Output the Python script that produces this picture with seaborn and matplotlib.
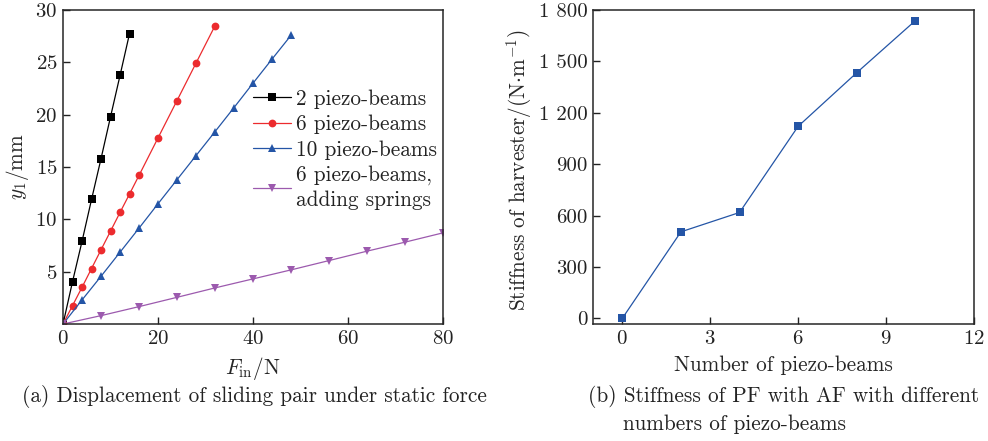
import matplotlib
matplotlib.use("Agg")
import matplotlib.pyplot as plt
import matplotlib.transforms as mtransforms
import seaborn as sns

# data
# (a) displacement y1 (mm) vs input force F_in (N)
f_2beams = [0, 2, 4, 6, 8, 10, 12, 14]
y_2beams = [0, 4.05, 7.9, 11.9, 15.8, 19.8, 23.75, 27.75]

f_6beams = [0, 2, 4, 6, 8, 10, 12, 14, 16, 20, 24, 28, 32]
y_6beams = [0, 1.76, 3.51, 5.3, 7.09, 8.87, 10.66, 12.42, 14.2, 17.78, 21.35, 24.93, 28.5]

f_10beams = [0, 4, 8, 12, 16, 20, 24, 28, 32, 36, 40, 44, 48]
y_10beams = [0, 2.3, 4.56, 6.86, 9.16, 11.49, 13.79, 16.09, 18.38, 20.68, 23.01, 25.31, 27.58]

f_springs = [0, 8, 16, 24, 32, 40, 48, 56, 64, 72, 80]
y_springs = [0, 0.8, 1.66, 2.55, 3.45, 4.31, 5.17, 6.06, 6.96, 7.82, 8.71]

# (b) stiffness of harvester vs number of piezo-beams
n_beams = [0, 2, 4, 6, 8, 10]
stiffness = [0, 505, 618, 1121, 1434, 1738]

left_xticks = [0, 20, 40, 60, 80]
left_yticks = [5, 10, 15, 20, 25, 30]
right_xticks = [0, 3, 6, 9, 12]
right_yticks = [0, 300, 600, 900, 1200, 1500, 1800]
right_ylabels = ["0", "300", "600", "900", "1 200", "1 500", "1 800"]

sns.set_style("ticks")
plt.rcParams["font.family"] = ["cmr10", "DejaVu Serif"]
plt.rcParams["mathtext.fontset"] = "cm"
plt.rcParams["axes.formatter.use_mathtext"] = True
plt.rcParams["font.size"] = 15.3
plt.rcParams["axes.linewidth"] = 1.1
plt.rcParams["xtick.direction"] = "in"
plt.rcParams["ytick.direction"] = "in"
plt.rcParams["xtick.major.size"] = 5
plt.rcParams["ytick.major.size"] = 5
plt.rcParams["xtick.major.width"] = 1.0
plt.rcParams["ytick.major.width"] = 1.0
plt.rcParams["xtick.labelsize"] = 15
plt.rcParams["ytick.labelsize"] = 15
plt.rcParams["text.color"] = "#222222"
plt.rcParams["xtick.color"] = "#222222"
plt.rcParams["ytick.color"] = "#222222"

fig = plt.figure(figsize=(9.88, 4.41), dpi=100)
ax1 = fig.add_axes([0.0638, 0.2653, 0.3846, 0.712])
ax2 = fig.add_axes([0.6002, 0.2653, 0.3856, 0.712])

red = "#ec2b2e"
blue = "#2455a6"
purple = "#9c5aae"

series = [
    (f_2beams, y_2beams, "black", "s", 5.2, "2 piezo-beams"),
    (f_6beams, y_6beams, red, "o", 5.6, "6 piezo-beams"),
    (f_10beams, y_10beams, blue, "^", 6.2, "10 piezo-beams"),
    (f_springs, y_springs, purple, "v", 6.2, "6 piezo-beams,\nadding springs"),
]
for xs, ys, col, mk, ms, lab in series:
    sns.lineplot(x=xs, y=ys, ax=ax1, color=col, marker=mk, markersize=ms,
                 markeredgewidth=0, linewidth=0.9, label=lab)

ax1.set_xlim(0, 80)
ax1.set_ylim(0, 30)
ax1.set_xticks(left_xticks)
ax1.set_yticks(left_yticks)
# origin label sits a little left of the corner
off = mtransforms.ScaledTranslation(-13 / 100, 0, fig.dpi_scale_trans)
lbl0 = ax1.get_xticklabels()[0]
lbl0.set_transform(lbl0.get_transform() + off)
ax1.set_xlabel(r"$F_{\mathrm{in}}$/N")
ax1.set_ylabel(r"$y_1$/mm")
ax1.xaxis.set_label_coords(0.5, -0.1)
ax1.yaxis.set_label_coords(-0.083, 0.5)
leg = ax1.legend(loc="upper left", bbox_to_anchor=(0.5, 0.748), frameon=False,
                 borderpad=0, borderaxespad=0, handlelength=1.8, handletextpad=0.2,
                 labelspacing=0.28, fontsize=15.3)
leg.get_texts()[3].set_linespacing(1.35)

sns.lineplot(x=n_beams, y=stiffness, ax=ax2, color=blue, marker="s",
             markersize=6.2, markeredgewidth=0, linewidth=0.9)
ax2.set_xlim(-1, 12)
ax2.set_ylim(-33, 1800)
ax2.set_xticks(right_xticks)
ax2.set_yticks(right_yticks)
ax2.set_yticklabels(right_ylabels)
ax2.set_xlabel("Number of piezo-beams")
ax2.set_ylabel(r"Stiffness of harvester/(N$\cdot$m$^{-1}$)")
ax2.xaxis.set_label_coords(0.5, -0.1)
ax2.yaxis.set_label_coords(-0.155, 0.49)

for ax in (ax1, ax2):
    ax.tick_params(axis="both", pad=4)

fig.text(0.0223, 0.0998, "(a) Displacement of sliding pair under static force",
         ha="left", va="center", fontsize=15.3)
fig.text(0.595, 0.0998, "(b) Stiffness of PF with AF with different",
         ha="left", va="center", fontsize=15.3)
fig.text(0.631, 0.0385, "numbers of piezo-beams",
         ha="left", va="center", fontsize=15.3)

fig.savefig("out.png", dpi=100)
